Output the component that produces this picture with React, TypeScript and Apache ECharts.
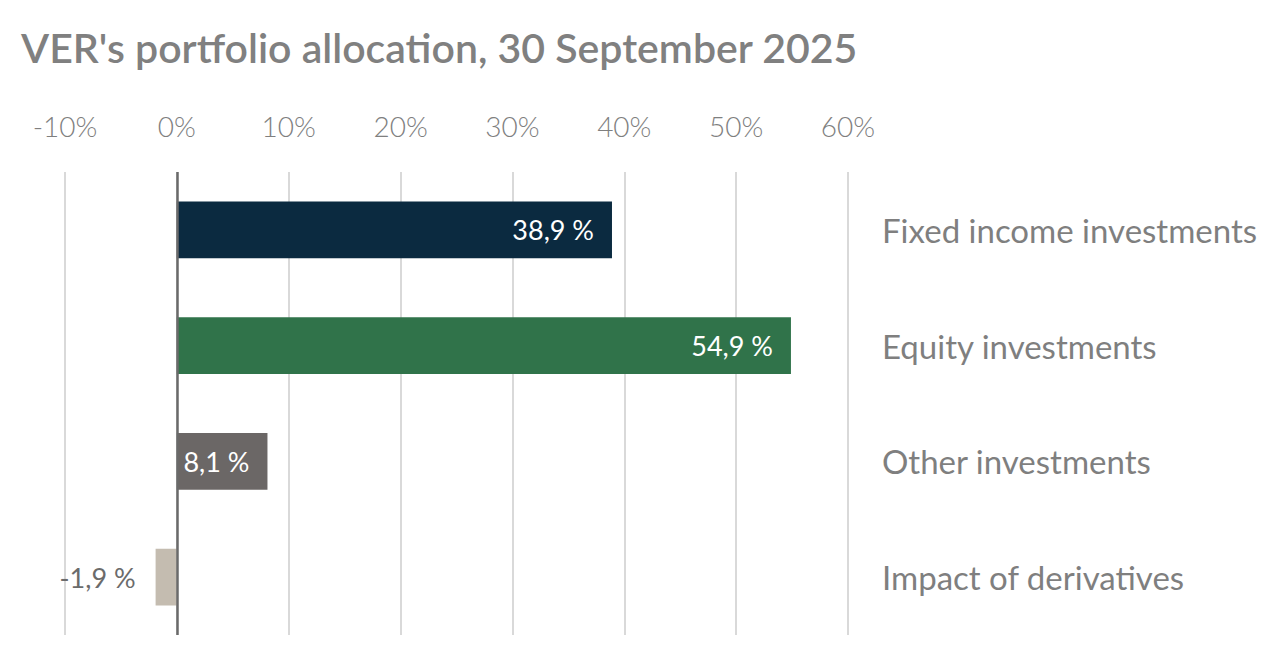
import React, { useEffect, useRef } from "react";
import * as echarts from "echarts";

const categories = [
  "Fixed income investments",
  "Equity investments",
  "Other investments",
  "Impact of derivatives",
];
const values = [38.9, 54.9, 8.1, -1.9];
const barColors = ["#0b2a40", "#30734a", "#6b6766", "#c4bcb0"];
const axisTicks = [-10, 0, 10, 20, 30, 40, 50, 60];
const titleText = "VER's portfolio allocation, 30 September 2025";

const FONT = "Lato";

export default function App() {
  const ref = useRef<HTMLDivElement>(null);
  useEffect(() => {
    if (!ref.current) return;
    const chart = echarts.init(ref.current, undefined, { renderer: "svg" });
    chart.setOption({
      animation: false,
      backgroundColor: "#ffffff",
      textStyle: { fontFamily: FONT },
      title: {
        text: titleText,
        left: 16,
        top: 22,
        textStyle: { fontFamily: FONT, fontSize: 41, fontWeight: 600, color: "#808080" },
      },
      grid: { left: 65, right: 440, top: 172, bottom: 37, containLabel: false },
      xAxis: {
        type: "value",
        position: "top",
        min: axisTicks[0],
        max: axisTicks[axisTicks.length - 1],
        interval: 10,
        axisLine: { show: false },
        axisTick: { show: false },
        axisLabel: {
          formatter: (v: number) => `${v}%`,
          fontFamily: FONT,
          fontSize: 28,
          fontWeight: 300,
          color: "#7f7f7f",
          margin: 32,
        },
        splitLine: { show: true, lineStyle: { color: "#d9d9d9", width: 2 } },
      },
      yAxis: {
        type: "category",
        data: categories,
        inverse: true,
        position: "right",
        axisLine: { show: false },
        axisTick: { show: false },
        axisLabel: {
          align: "left",
          margin: 34,
          fontFamily: FONT,
          fontSize: 33,
          color: "#7f7f7f",
        },
      },
      series: [
        {
          type: "bar",
          barWidth: "49%",
          data: values.map((v, i) => ({
            value: v,
            itemStyle: { color: barColors[i] },
            label:
              v < 0
                ? { position: "left", distance: 20, color: "#6b6b6b" }
                : { position: "insideRight", distance: 18, color: "#ffffff" },
          })),
          label: {
            show: true,
            fontFamily: FONT,
            fontSize: 27,
            fontWeight: 400,
            formatter: (p: any) => `${String(p.value).replace(".", ",")} %`,
          },
          markLine: {
            silent: true,
            symbol: "none",
            label: { show: false },
            lineStyle: { color: "#6a6a6a", width: 2.5, type: "solid" },
            data: [{ xAxis: 0 }],
          },
        },
      ],
    });
    return () => chart.dispose();
  }, []);
  return (
    <div
      ref={ref}
      style={{ position: "fixed", left: 0, top: 0, width: 1288, height: 672 }}
    />
  );
}
